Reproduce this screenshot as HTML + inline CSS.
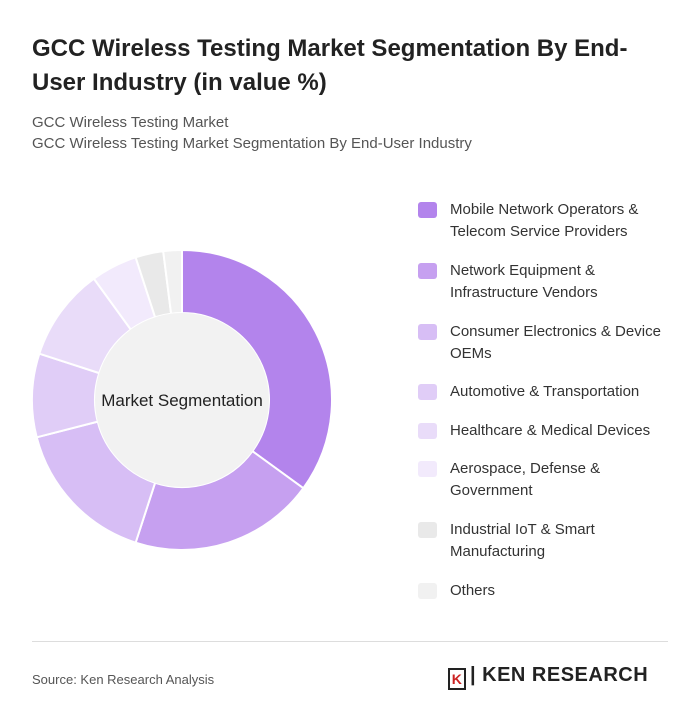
<!DOCTYPE html>
<html><head><meta charset="utf-8"><style>
body{margin:0;background:#fff;font-family:"Liberation Sans",sans-serif;}
#wrap{position:relative;width:700px;height:727px;overflow:hidden;}
.t{position:absolute;left:32px;top:32px;font-size:24px;font-weight:bold;color:#222;line-height:34px;width:640px;}
.s{position:absolute;left:32px;font-size:15px;color:#555;}
.leg{position:absolute;left:418px;font-size:15px;color:#333;line-height:22px;}
.sw{position:absolute;left:0;top:3px;width:19px;height:16px;border-radius:3px;}
.lt{margin-left:32px;}
</style></head><body>
<div id="wrap">
<div class="t">GCC Wireless Testing Market Segmentation By End-User Industry (in value %)</div>
<div class="s" style="top:114px">GCC Wireless Testing Market</div>
<div class="s" style="top:135px">GCC Wireless Testing Market Segmentation By End-User Industry</div>
<svg id="donut" width="700" height="727" style="position:absolute;left:0;top:0"></svg>
<div id="legend"></div>
<div style="position:absolute;left:32px;top:641px;width:636px;height:1px;background:#ddd"></div>
<div class="s" style="top:672px;font-size:13px;color:#555">Source: Ken Research Analysis</div>
<div style="position:absolute;left:448px;top:664px;font-size:20px;font-weight:bold;color:#222;letter-spacing:0.5px"><span style="display:inline-block;width:18px;height:22px;border:2px solid #222;box-sizing:border-box;font-size:14px;text-align:center;line-height:18px;vertical-align:-3px;margin-right:4px;color:#c22">K</span>| KEN RESEARCH</div>
</div>
<script>
const categories=["Mobile Network Operators & Telecom Service Providers","Network Equipment & Infrastructure Vendors","Consumer Electronics & Device OEMs","Automotive & Transportation","Healthcare & Medical Devices","Aerospace, Defense & Government","Industrial IoT & Smart Manufacturing","Others"];
const legendLines=[["Mobile Network Operators &","Telecom Service Providers"],["Network Equipment &","Infrastructure Vendors"],["Consumer Electronics & Device","OEMs"],["Automotive & Transportation"],["Healthcare & Medical Devices"],["Aerospace, Defense &","Government"],["Industrial IoT & Smart","Manufacturing"],["Others"]];
const values=[35,20,16,9,10,5,3,2];
const colors=["#b384ec","#c6a0f0","#d7bef5","#e0cdf7","#e9dcf9","#f2eafc","#e9e9e9","#f1f1f1"];
const NS="http://www.w3.org/2000/svg";
const svg=document.getElementById('donut');
const cx=182,cy=400,R=150,r=87;
const total=values.reduce((a,b)=>a+b,0);
function pt(a,rad){return [cx+rad*Math.sin(a),cy-rad*Math.cos(a)];}
let acc=0;
values.forEach((v,i)=>{
 const a0=acc/total*2*Math.PI;acc+=v;const a1=acc/total*2*Math.PI;
 const lg=(a1-a0)>Math.PI?1:0;
 const [x0,y0]=pt(a0,R),[x1,y1]=pt(a1,R),[x2,y2]=pt(a1,r),[x3,y3]=pt(a0,r);
 const p=document.createElementNS(NS,'path');
 p.setAttribute('d',`M${x0},${y0}A${R},${R} 0 ${lg} 1 ${x1},${y1}L${x2},${y2}A${r},${r} 0 ${lg} 0 ${x3},${y3}Z`);
 p.setAttribute('fill',colors[i]);p.setAttribute('stroke','#fff');p.setAttribute('stroke-width','2');
 
 
 svg.appendChild(p);
});
const c=document.createElementNS(NS,'circle');
c.setAttribute('cx',cx);c.setAttribute('cy',cy);c.setAttribute('r',r);c.setAttribute('fill','#f2f2f2');


svg.appendChild(c);
const t=document.createElementNS(NS,'text');
t.setAttribute('x',cx);t.setAttribute('y',cy+6);t.setAttribute('text-anchor','middle');t.setAttribute('font-size','17');t.setAttribute('fill','#222');t.setAttribute('font-family','Liberation Sans, sans-serif');
t.textContent='Market Segmentation';


svg.appendChild(t);
const leg=document.getElementById('legend');
const tops=[199,260,321,381,420,458,519,580];
categories.forEach((c,i)=>{
 const d=document.createElement('div');d.className='leg';d.style.top=tops[i]+'px';
 
 
 d.innerHTML='<div class="sw" style="background:'+colors[i]+'"></div><div class="lt">'+legendLines[i].join('<br>').replace(/&(?!amp;)/g,'&amp;')+'</div>';
 d.title=c;
 leg.appendChild(d);
});
</script>
</body></html>
